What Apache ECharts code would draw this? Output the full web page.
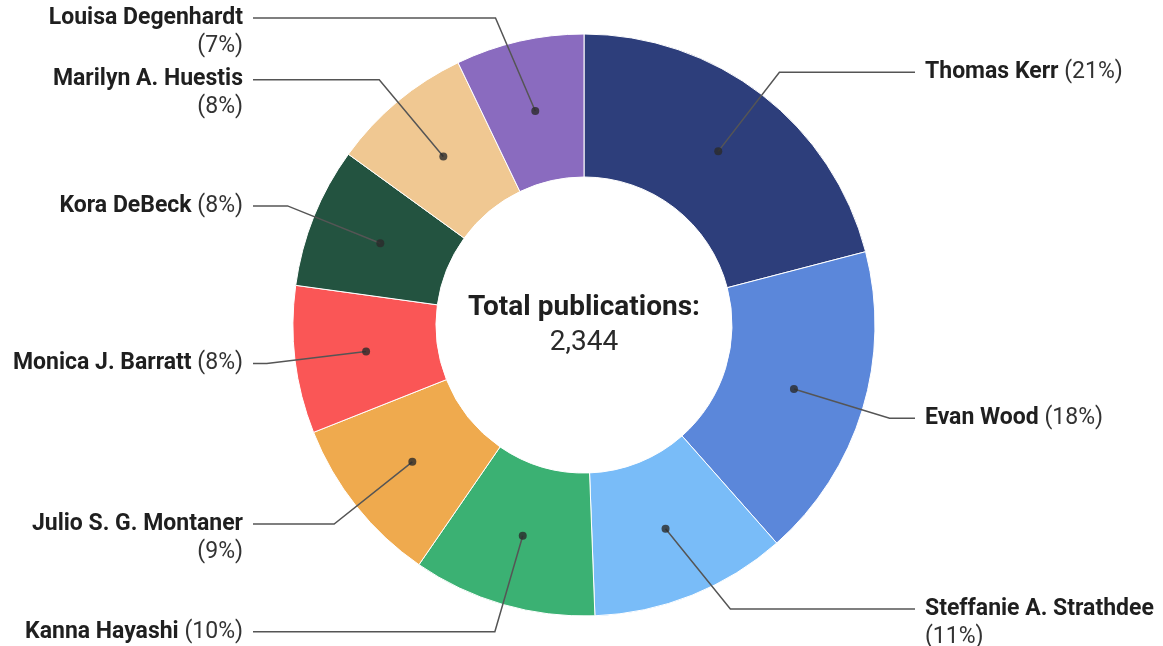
<!DOCTYPE html>
<html><head><meta charset="utf-8">
<script src="https://cdn.jsdelivr.net/npm/echarts@6/dist/echarts.min.js"></script>
<style>html,body{margin:0;padding:0;background:#fff}#c{width:1163px;height:646px}</style>
</head><body><div id="c"></div>
<script>
// ---- data ----
const names = ['Thomas Kerr', 'Evan Wood', 'Steffanie A. Strathdee', 'Kanna Hayashi', 'Julio S. G. Montaner', 'Monica J. Barratt', 'Kora DeBeck', 'Marilyn A. Huestis', 'Louisa Degenhardt'];
const publications = [491, 411, 256, 239, 220, 192, 183, 185, 167];
const wrapLabel = [false, false, true, false, true, false, false, true, true];
const centerTitle = 'Total publications:';

// ---- styles ----
const colors = ['#2d3e7b', '#5b87da', '#79bcf8', '#3bb173', '#efaa4e', '#fa5656', '#235340', '#f0c892', '#8a6bbf'];
const H = 646;
const CX = 584, CY = 325, R_OUT = 291, R_IN = 148, R_DOT = (R_OUT + R_IN) / 2;
const LEN = 100, R_END = 331, GAP = 10;
const LH = 28, FS = 23, FONT = 'Roboto';

const total = publications.reduce((a, b) => a + b, 0);

const pieData = names.map((n, i) => ({ name: n, value: publications[i], itemStyle: { color: colors[i] } }));
const labelData = names.map((n, i) => ({ name: n, value: publications[i] }));

let acc = 0;
const dotData = publications.map(v => { const m = acc + v / 2; acc += v; return [R_DOT, m]; });

const chart = echarts.init(document.getElementById('c'), null, { renderer: 'canvas' });
chart.setOption({
  animation: false,
  textStyle: { fontFamily: FONT },
  polar: { center: [CX, CY], radius: R_OUT },
  angleAxis: { type: 'value', min: 0, max: total, startAngle: 90, clockwise: true, show: false },
  radiusAxis: { type: 'value', min: 0, max: R_OUT, show: false },
  graphic: [{
    type: 'text', x: CX, y: CY, z: 10,
    style: {
      text: '{t|' + centerTitle + '}\n{v|' + total.toLocaleString('en-US') + '}',
      align: 'center', verticalAlign: 'middle',
      rich: {
        t: { fontFamily: FONT, fontSize: 28, fontWeight: 'bold', lineHeight: 35, fill: '#1f1f1f' },
        v: { fontFamily: FONT, fontSize: 28, fontWeight: 'normal', lineHeight: 35, fill: '#2a2a2a' }
      }
    }
  }],
  series: [
    {
      type: 'pie', z: 2, silent: true,
      center: [CX, CY], radius: [R_IN, R_OUT], startAngle: 90, clockwise: true,
      label: { show: false }, labelLine: { show: false },
      itemStyle: { borderColor: '#fff', borderWidth: 1 },
      emphasis: { disabled: true },
      data: pieData
    },
    {
      type: 'pie', z: 3, silent: true,
      center: [CX, CY], radius: [0, R_DOT], startAngle: 90, clockwise: true,
      avoidLabelOverlap: false,
      itemStyle: { color: 'rgba(0,0,0,0)', borderWidth: 0 },
      emphasis: { disabled: true },
      label: {
        show: true, position: 'outside',
        distanceToLabelLine: GAP, bleedMargin: 0, overflow: 'none',
        formatter: p => {
          const pct = Math.round(p.value / total * 100);
          return '{n|' + p.name + (wrapLabel[p.dataIndex] ? '}\n' : ' }') + '{p|(' + pct + '%)}';
        },
        rich: {
          n: { fontFamily: FONT, fontSize: FS, fontWeight: 'bold', color: '#1f1f1f', lineHeight: LH },
          p: { fontFamily: FONT, fontSize: FS, fontWeight: 'normal', color: '#333', lineHeight: LH }
        }
      },
      labelLine: { show: true, length: LEN, length2: 20, smooth: false, lineStyle: { color: '#555', width: 1.5 } },
      labelLayout: function (p) {
        const pts = p.labelLinePoints;
        if (!pts) return {};
        const side = pts[1][0] >= CX ? 1 : -1;
        const h = p.labelRect.height;
        let lineY = pts[2][1];
        lineY = Math.min(lineY, H - h + LH / 2);
        lineY = Math.max(lineY, LH / 2 + 4);
        const rb = R_DOT + LEN;
        const dy = lineY - CY;
        const ex = CX + side * Math.sqrt(Math.max(rb * rb - dy * dy, 0));
        const endX = CX + side * R_END;
        return {
          x: endX + side * GAP, y: lineY - LH / 2,
          align: side > 0 ? 'left' : 'right', verticalAlign: 'top',
          labelLinePoints: [pts[0], [ex, lineY], [endX, lineY]]
        };
      },
      data: labelData
    },
    {
      type: 'scatter', coordinateSystem: 'polar', z: 5, silent: true,
      symbol: 'circle', symbolSize: 8,
      itemStyle: { color: '#2b2b2b' },
      data: dotData
    }
  ]
});
</script></body></html>
